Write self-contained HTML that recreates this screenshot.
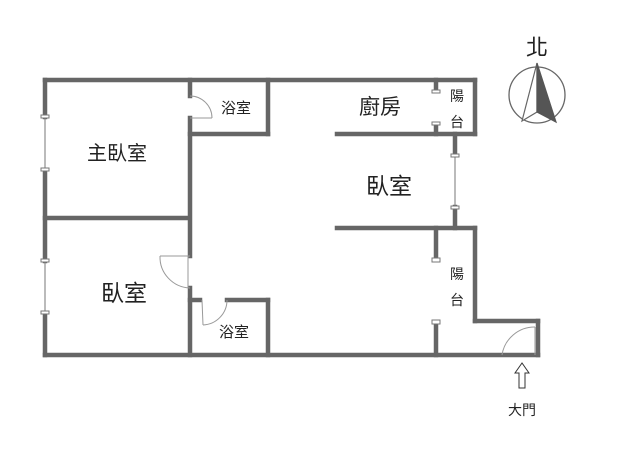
<!DOCTYPE html>
<html><head><meta charset="utf-8"><style>
html,body{margin:0;padding:0;background:#fff;}
svg{display:block;}
text{font-family:"Liberation Sans","Noto Sans CJK TC",sans-serif;fill:#222;text-anchor:middle;}
</style></head><body>
<svg width="638" height="460" viewBox="0 0 638 460" xmlns="http://www.w3.org/2000/svg">
<g stroke="#666" stroke-width="4.5" fill="none" stroke-linecap="square">
<!-- outer left -->
<line x1="45" y1="80" x2="45" y2="117"/>
<line x1="45" y1="170" x2="45" y2="261"/>
<line x1="45" y1="313" x2="45" y2="355"/>
<line x1="45" y1="80" x2="475" y2="80"/>
<line x1="475" y1="80" x2="475" y2="134"/>
<line x1="337" y1="134" x2="475" y2="134"/>
<line x1="436" y1="80" x2="436" y2="91"/>
<line x1="436" y1="124" x2="436" y2="134"/>
<line x1="455" y1="134" x2="455" y2="155"/>
<line x1="455" y1="207" x2="455" y2="228"/>
<line x1="337" y1="228" x2="475" y2="228"/>
<line x1="475" y1="228" x2="475" y2="321"/>
<line x1="475" y1="321" x2="538" y2="321"/>
<line x1="538" y1="321" x2="538" y2="355"/>
<line x1="45" y1="355" x2="538" y2="355"/>
<line x1="436" y1="228" x2="436" y2="259"/>
<line x1="436" y1="323" x2="436" y2="355"/>
<!-- interior -->
<line x1="190" y1="80" x2="190" y2="96"/>
<line x1="190" y1="118" x2="190" y2="256"/>
<line x1="190" y1="288" x2="190" y2="355"/>
<line x1="190" y1="134" x2="268" y2="134"/>
<line x1="268" y1="80" x2="268" y2="134"/>
<line x1="45" y1="218" x2="187" y2="218"/>
<line x1="190" y1="300" x2="200" y2="300"/>
<line x1="227" y1="300" x2="268" y2="300"/>
<line x1="268" y1="300" x2="268" y2="355"/>
</g>
<!-- windows thin lines -->
<g stroke="#777" stroke-width="1" fill="#fff">
<line x1="45" y1="117" x2="45" y2="170"/>
<line x1="45" y1="261" x2="45" y2="313"/>
<line x1="455" y1="155" x2="455" y2="207"/>
<rect x="41" y="115" width="8" height="3"/>
<rect x="41" y="168" width="8" height="3"/>
<rect x="41" y="259" width="8" height="3"/>
<rect x="41" y="311" width="8" height="3"/>
<rect x="451" y="154" width="8" height="3"/>
<rect x="451" y="206" width="8" height="3"/>
<rect x="432" y="90" width="8" height="3"/>
<rect x="432" y="122" width="8" height="3"/>
<rect x="432" y="258" width="8" height="4"/>
<rect x="432" y="320" width="8" height="4"/>
</g>
<!-- doors -->
<g stroke="#999" stroke-width="1" fill="none">
<path d="M190 96 A22 22 0 0 1 212 118"/><line x1="190" y1="118" x2="212" y2="118"/>
<path d="M160 256 A31 31 0 0 0 190 288"/><line x1="160" y1="256" x2="190" y2="256"/><line x1="188" y1="256" x2="188" y2="288"/>
<path d="M227 300 A25 25 0 0 1 203 325"/><line x1="202" y1="300" x2="203" y2="325"/>
<path d="M535 327 A33 33 0 0 0 502 355"/><line x1="535" y1="327" x2="535" y2="355"/>
</g>
<!-- labels -->
<text x="117" y="160" font-size="20">主臥室</text>
<text x="124" y="301" font-size="23">臥室</text>
<text x="236" y="113" font-size="15">浴室</text>
<text x="234" y="337" font-size="15">浴室</text>
<text x="380" y="114" font-size="21">廚房</text>
<text x="389" y="194" font-size="23">臥室</text>
<text x="457" y="101" font-size="14">陽</text>
<text x="457" y="127" font-size="14">台</text>
<text x="457" y="279" font-size="14">陽</text>
<text x="457" y="305" font-size="14">台</text>
<text x="537" y="55" font-size="22">北</text>
<text x="522" y="415" font-size="14">大門</text>
<!-- compass -->
<circle cx="537" cy="95" r="28" fill="none" stroke="#666" stroke-width="1.3"/>
<path d="M537 63 L522 121 L537 112 Z" fill="#fff" stroke="#666" stroke-width="1.2"/>
<path d="M537 63 L556 122 L537 112 Z" fill="#555" stroke="#555" stroke-width="1.2"/>
<!-- entrance arrow -->
<path d="M522 363 L515 373 L519 373 L519 388 L525 388 L525 373 L529 373 Z" fill="#fff" stroke="#333" stroke-width="1"/>
</svg>
</body></html>
